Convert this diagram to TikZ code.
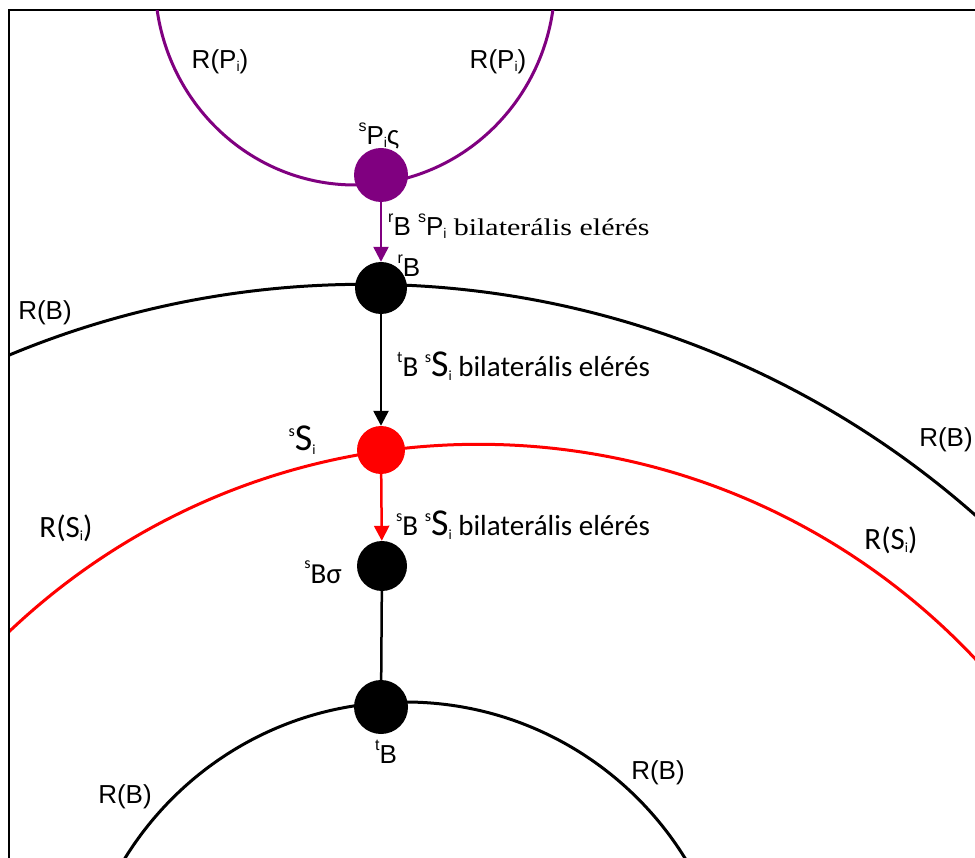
\documentclass[tikz,border=0pt]{standalone}
\usepackage{fontspec}
\setmainfont{Liberation Sans}
\newfontfamily\serf[FakeStretch=1.25]{Liberation Serif}
\newfontfamily\hum{Carlito}
\usetikzlibrary{arrows.meta}
\definecolor{ppl}{RGB}{128,0,128}
\definecolor{rd}{RGB}{255,0,0}
\newcommand{\mysup}[1]{\raisebox{0.5em}{\fontsize{16}{16}\selectfont #1}}
\newcommand{\mysub}[1]{\raisebox{-0.12em}{\fontsize{14}{14}\selectfont #1}}
\newcommand{\bigS}{{\fontsize{38}{38}\selectfont S}}
\begin{document}
\begin{tikzpicture}[x=1pt,y=-1pt,
  dot/.style={circle,inner sep=0pt,minimum size=#1},
  lab/.style={font=\fontsize{26}{28}\selectfont, inner sep=0pt},
  hlab/.style={font=\hum\fontsize{29}{30}\selectfont, inner sep=0pt},
  curve/.style={line width=3pt},
  conn/.style={line width=2.5pt},
  tip/.style={-{Triangle[length=15pt,width=15pt]}}]
\useasboundingbox (0,0) rectangle (975,858);
\fill[white] (0,0) rectangle (975,858);
\draw[line width=2pt] (9,858) -- (9,10) -- (975,10);
\begin{scope}
\clip (10,11) rectangle (975,858);
\draw[ppl,curve] (355,-20) ellipse [x radius=200, y radius=205];
\draw[curve] (364.4,1207.9) circle [radius=923.6];
\draw[rd,curve] (478.6,1126.3) circle [radius=682];
\draw[curve] (405,1031) circle [radius=329];
\end{scope}
% nodes
\node[dot=54pt, fill=ppl] (p) at (381,175) {};
\node[dot=52pt, fill=black] (rb) at (381,288) {};
\node[dot=48pt, fill=rd] (ss) at (381,450) {};
\node[dot=50pt, fill=black] (sb) at (382,566) {};
\node[dot=54pt, fill=black] (tb) at (381,707) {};
% connectors
\draw[ppl,conn,tip] (p) -- (rb);
\draw[conn,tip] (rb) -- (ss);
\draw[rd,conn,tip] (ss) -- (sb);
\draw[conn] (sb) -- (tb);
% node labels
\node[lab] (lp) at (379,136) {\mysup{s}P\mysub{i}ς};
\node[lab] (lrb) at (409,266) {\mysup{r}B};
\node[hlab] (lss) at (302,440) {\mysup{s}\bigS\mysub{i}};
\node[hlab] (lsb) at (323,572) {\mysup{s}Bσ};
\node[lab] (ltb) at (386,752) {\mysup{t}B};
% edge labels
\node[lab,anchor=west] (e1) at (388,226) {\mysup{r}B \mysup{s}P\mysub{i} {\serf\fontsize{24}{26}\selectfont bilaterális elérés}};
\node[hlab,anchor=west] (e2) at (397,366) {\mysup{t}B \mysup{s}\bigS\mysub{i} bilaterális elérés};
\node[hlab,anchor=west] (e3) at (396,525) {\mysup{s}B \mysup{s}\bigS\mysub{i} bilaterális elérés};
% circle labels
\node[lab] (l1) at (220,62) {R(P\mysub{i})};
\node[lab] (l2) at (498,62) {R(P\mysub{i})};
\node[lab] (l3) at (45,313) {R(B)};
\node[lab] (l4) at (946,440) {R(B)};
\node[hlab,font=\hum\fontsize{31}{32}\selectfont] (l5) at (66,528) {R(S\mysub{i})};
\node[hlab,font=\hum\fontsize{31}{32}\selectfont] (l6) at (891,540) {R(S\mysub{i})};
\node[lab] (l7) at (125,797) {R(B)};
\node[lab] (l8) at (658,773) {R(B)};
\end{tikzpicture}
\end{document}
